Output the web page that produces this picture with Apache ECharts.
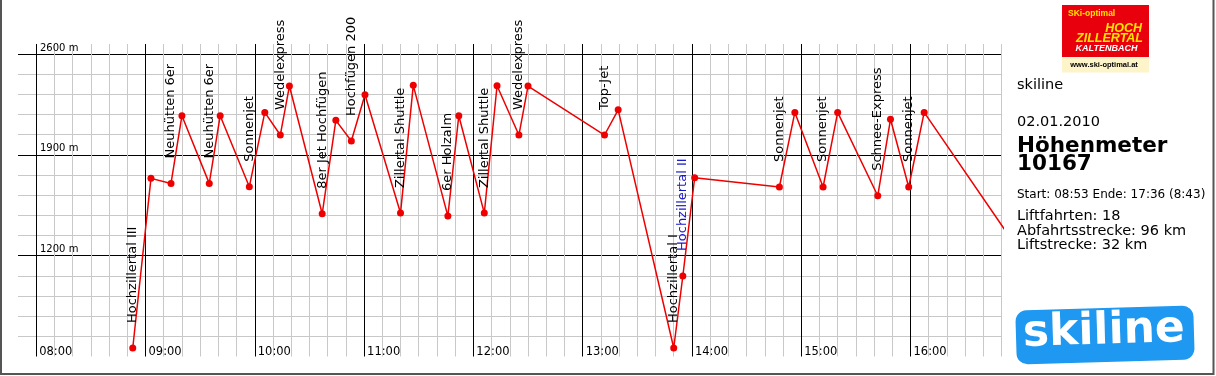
<!DOCTYPE html>
<html><head><meta charset="utf-8">
<script src="https://cdn.jsdelivr.net/npm/echarts@6/dist/echarts.min.js"></script>
<style>html,body{margin:0;padding:0;background:#fff}#c{width:1216px;height:376px}</style>
</head><body><div id="c"></div>
<script>
// ---- data ----
const times = ['08:53','09:03','09:14','09:20','09:35','09:41','09:57','10:05:30','10:14','10:19',
  '10:37','10:44:30','10:53','11:00:30','11:20','11:27','11:46','11:52','12:06','12:13',
  '12:25','12:30','13:12','13:19:30','13:50','13:55','14:01:30','14:48','14:56:30','15:12',
  '15:20','15:42','15:49','15:59','16:07:30','17:36'];
const elevations = [559,1737,1702,2172,1702,2172,1679,2195,2038,2378,
  1491,2140,1996,2317,1496,2383,1475,2172,1496,2380,
  2038,2378,2038,2213,559,1059,1741,1677,2195,1677,
  2195,1616,2147,1677,2195,565];
const liftLabels = ['Hochzillertal III','','Neuhütten 6er','','Neuhütten 6er','','Sonnenjet','','Wedelexpress','',
  '8er Jet Hochfügen','','Hochfügen 2000','','Zillertal Shuttle','','6er Holzalm','','Zillertal Shuttle','',
  'Wedelexpress','','Top-Jet','','Hochzillertal I','Hochzillertal II','','Sonnenjet','','Sonnenjet',
  '','Schnee-Express','','Sonnenjet','',''];
const highlightedLabels = ['Hochzillertal II'];
const xStart = '07:50', xEnd = '16:50';
const yMin = 500, yMax = 2670, yMajorStep = 700, yMinorStep = 140;
const infoLines = {
  title: 'skiline', date: '02.01.2010', heightLabel: 'Höhenmeter', heightValue: '10167',
  times: 'Start: 08:53 Ende: 17:36 (8:43)',
  stats: ['Liftfahrten: 18', 'Abfahrtsstrecke: 96 km', 'Liftstrecke: 32 km']
};

// ---- helpers ----
function toMin(s){ const p = s.split(':').map(Number); return p[0]*60 + p[1] + (p[2]||0)/60; }
function fmtTime(v){ const h = Math.floor(v/60), m = Math.round(v%60); return String(h).padStart(2,'0')+':'+String(m).padStart(2,'0'); }
const xMin = toMin(xStart), xMax = toMin(xEnd);
const GRID_MINOR = '#c8c8c8', GRID_MAJOR = '#000';
const xColors = [];
for (let v = xMin; v <= xMax + 1e-6; v += 10) xColors.push(v === xMin ? 'rgba(0,0,0,0)' : (v % 60 === 0 ? GRID_MAJOR : GRID_MINOR));
const yColors = [];
for (let v = yMin; v <= yMax; v += yMinorStep) yColors.push(v === yMin ? 'rgba(0,0,0,0)' : ((v - yMin) % yMajorStep === 0 ? GRID_MAJOR : GRID_MINOR));
yColors.push('rgba(0,0,0,0)');

const FONT = '"DejaVu Sans", sans-serif';
const chart = echarts.init(document.getElementById('c'), null, {renderer:'canvas'});
const seriesData = times.map((t,i)=>{
  const name = liftLabels[i];
  return {
    value:[toMin(t), elevations[i]],
    label: name ? {show:true, formatter:name, color: highlightedLabels.includes(name) ? '#1414c8' : '#000'} : {show:false}
  };
});

const RX = 1017;
chart.setOption({
  animation:false,
  backgroundColor:'#fff',
  grid:{left:18, right:214.4, top:44, bottom:19.5, containLabel:false},
  xAxis:{type:'value', min:xMin, max:xMax, interval:10,
    axisLine:{show:false}, axisTick:{show:false},
    splitLine:{show:true, showMinLine:true, showMaxLine:true, lineStyle:{color:xColors, width:1}},
    axisLabel:{inside:true, margin:4, align:'left', verticalAlign:'middle', padding:[0,0,0,3],
      fontFamily:FONT, fontSize:11.5, color:'#000', showMinLabel:true, showMaxLabel:true,
      formatter:v=> (v % 60 === 0) ? fmtTime(v) : ''}
  },
  yAxis:{type:'value', min:yMin, max:yMax, interval:yMinorStep,
    axisLine:{show:false}, axisTick:{show:false},
    splitLine:{show:true, showMinLine:true, showMaxLine:true, lineStyle:{color:yColors, width:1}},
    axisLabel:{inside:true, margin:22, align:'left', verticalAlign:'bottom', lineHeight:12,
      fontFamily:FONT, fontSize:10, color:'#000',
      formatter:v=> (v > yMin && (v - yMin) % yMajorStep === 0) ? (v + ' m') : ''}
  },
  series:[{
    type:'line', data:seriesData, clip:true,
    symbol:'circle', symbolSize:7, showAllSymbol:true,
    itemStyle:{color:'#ee0000'}, lineStyle:{color:'#ee0000', width:1.5},
    label:{position:'top', distance:21.5, rotate:90, align:'left', verticalAlign:'middle',
      fontFamily:FONT, fontSize:13},
    emphasis:{disabled:true}
  }],
  graphic:[
    // top clipping band of the original plot image
    {type:'rect', z:100, shape:{x:3, y:0, width:1005, height:17}, style:{fill:'#fff'}, silent:true},
    // frame
    {type:'polyline', z:101, shape:{points:[[1,0],[1,374],[1213.5,374],[1213.5,0]]}, style:{stroke:'#555', lineWidth:2, fill:null}, silent:true},
    // ski-optimal logo
    {type:'rect', shape:{x:1062, y:5, width:87, height:52}, style:{fill:'#e8000c'}},
    {type:'rect', shape:{x:1062, y:57, width:87, height:15.5}, style:{fill:'#fdf4c9'}},
    {type:'text', x:1068, y:13.5, style:{text:'SKi-optimal', font:'bold 8.5px "Liberation Sans", sans-serif', fill:'#ffe400', verticalAlign:'middle'}},
    {type:'text', x:1142, y:29, style:{text:'HOCH', font:'italic bold 12.5px "Liberation Sans", sans-serif', fill:'#ffe400', align:'right', verticalAlign:'middle'}},
    {type:'text', x:1143, y:38.5, style:{text:'ZILLERTAL', font:'italic bold 12.5px "Liberation Sans", sans-serif', fill:'#ffe400', align:'right', verticalAlign:'middle'}},
    {type:'text', x:1106.5, y:49, style:{text:'KALTENBACH', font:'italic bold 9px "Liberation Sans", sans-serif', fill:'#fff', align:'center', verticalAlign:'middle'}},
    {type:'text', x:1104, y:64.5, style:{text:'www.ski-optimal.at', font:'bold 7.5px "Liberation Sans", sans-serif', fill:'#000', align:'center', verticalAlign:'middle'}},
    // info text
    {type:'text', x:RX, y:85, style:{text:infoLines.title, font:'14.5px '+FONT, fill:'#000', verticalAlign:'middle'}},
    {type:'text', x:RX, y:122, style:{text:infoLines.date, font:'14.5px '+FONT, fill:'#000', verticalAlign:'middle'}},
    {type:'text', x:RX, y:146.5, style:{text:infoLines.heightLabel, font:'bold 21.5px '+FONT, fill:'#000', verticalAlign:'middle'}},
    {type:'text', x:RX, y:164, style:{text:infoLines.heightValue, font:'bold 21.5px '+FONT, fill:'#000', verticalAlign:'middle'}},
    {type:'text', x:RX, y:194.5, style:{text:infoLines.times, font:'12px '+FONT, fill:'#000', verticalAlign:'middle'}},
    {type:'text', x:RX, y:216, style:{text:infoLines.stats[0], font:'14.5px '+FONT, fill:'#000', verticalAlign:'middle'}},
    {type:'text', x:RX, y:231, style:{text:infoLines.stats[1], font:'14.5px '+FONT, fill:'#000', verticalAlign:'middle'}},
    {type:'text', x:RX, y:245.5, style:{text:infoLines.stats[2], font:'14.5px '+FONT, fill:'#000', verticalAlign:'middle'}},
    // skiline logo
    {type:'group', x:1105, y:335, rotation:0.03, children:[
      {type:'rect', shape:{x:-89, y:-27, width:178, height:54, r:11}, style:{fill:'#1e98f0'}},
      {type:'text', x:-1, y:-3, style:{text:'skiline', font:'bold 44px '+FONT, fill:'#fff', align:'center', verticalAlign:'middle'}}
    ]}
  ]
});
</script>
</body></html>
